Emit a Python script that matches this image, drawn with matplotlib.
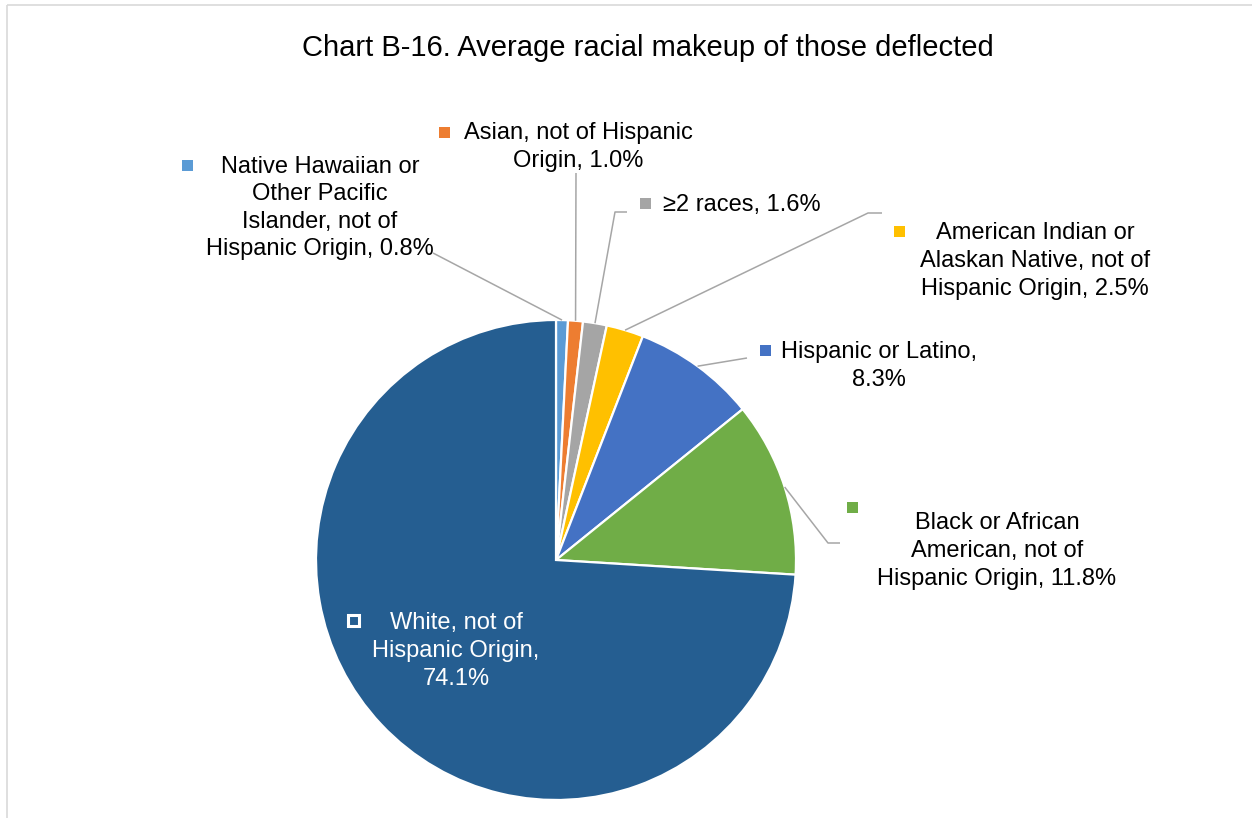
import matplotlib
matplotlib.use("Agg")
import matplotlib.pyplot as plt
from matplotlib.patches import Rectangle
import numpy as np

plt.rcParams['font.family'] = ['Liberation Sans', 'DejaVu Sans']

# Shares of those deflected, in drawing order (clockwise from 12 o'clock)
categories = [
    "Native Hawaiian or\nOther Pacific\nIslander, not of\nHispanic Origin",
    "Asian, not of Hispanic\nOrigin",
    "\u22652 races",
    "American Indian or\nAlaskan Native, not of\nHispanic Origin",
    "Hispanic or Latino,\n",
    "Black or African\nAmerican, not of\nHispanic Origin",
    "White, not of\nHispanic Origin,\n",
]
shares = [0.8, 1.0, 1.6, 2.5, 8.3, 11.8, 74.1]
colors = ["#5B9BD5", "#ED7D31", "#A5A5A5", "#FFC000", "#4472C4", "#70AD47", "#255E91"]

title = "Chart B-16. Average racial makeup of those deflected"

W, H = 1252, 818
fig = plt.figure(figsize=(W / 100, H / 100), dpi=100)
ax = fig.add_axes([0, 0, 1, 1])

cx, cy, R = 556, 560, 240
wedges, _ = ax.pie(shares, colors=colors, startangle=-90, counterclock=True,
                   center=(cx, cy), radius=R,
                   wedgeprops=dict(edgecolor="white", linewidth=1.6))
ax.set_xlim(0, W)
ax.set_ylim(H, 0)
ax.set_aspect('equal')
ax.axis('off')

# outer chart frame
ax.add_patch(Rectangle((7, 5), W + 20, H + 20, fill=False,
                       edgecolor="#D9D9D9", linewidth=1.2))

ax.text(648, 48, title, ha='center', va='center', fontsize=21, color='black')


def label_text(i):
    name = categories[i]
    val = f"{shares[i]:.1f}%"
    if name.endswith("\n"):
        return name + val
    return name + ", " + val


# label block centres, legend-key centres, leader paths (after anchor)
label_pos = [(320, 208), (578, 147), (742, 205), (1035, 261), (879, 366), (997, 551), (456, 651)]
key_pos = [(187, 165), (444, 132), (645, 203), (899, 231), (765, 350), (852, 507), (353, 620)]
leaders = [
    [(433, 253)],
    [(576, 173)],
    [(615, 212), (627, 212)],
    [(868, 213), (882, 213)],
    [(747, 358)],
    [(828, 543), (840, 543)],
    None,
]

for i, w in enumerate(wedges):
    mid = np.deg2rad((w.theta1 + w.theta2) / 2)
    anchor = (cx + R * np.cos(mid), cy + R * np.sin(mid))
    txt_color = 'white' if i == 6 else 'black'
    ax.text(*label_pos[i], label_text(i), ha='center', va='center',
            fontsize=17, color=txt_color, linespacing=1.33)
    kx, ky = key_pos[i]
    s = 11
    if i == 6:
        ax.add_patch(Rectangle((kx - s / 2, ky - s / 2), s, s, facecolor=colors[i],
                               edgecolor='white', linewidth=2.2))
    else:
        ax.add_patch(Rectangle((kx - s / 2, ky - s / 2), s, s, facecolor=colors[i],
                               edgecolor='none'))
    if leaders[i]:
        pts = [anchor] + leaders[i]
        xs, ys = zip(*pts)
        ax.plot(xs, ys, color="#A6A6A6", linewidth=1.1, solid_capstyle='butt')

fig.savefig("out.png", dpi=100)
